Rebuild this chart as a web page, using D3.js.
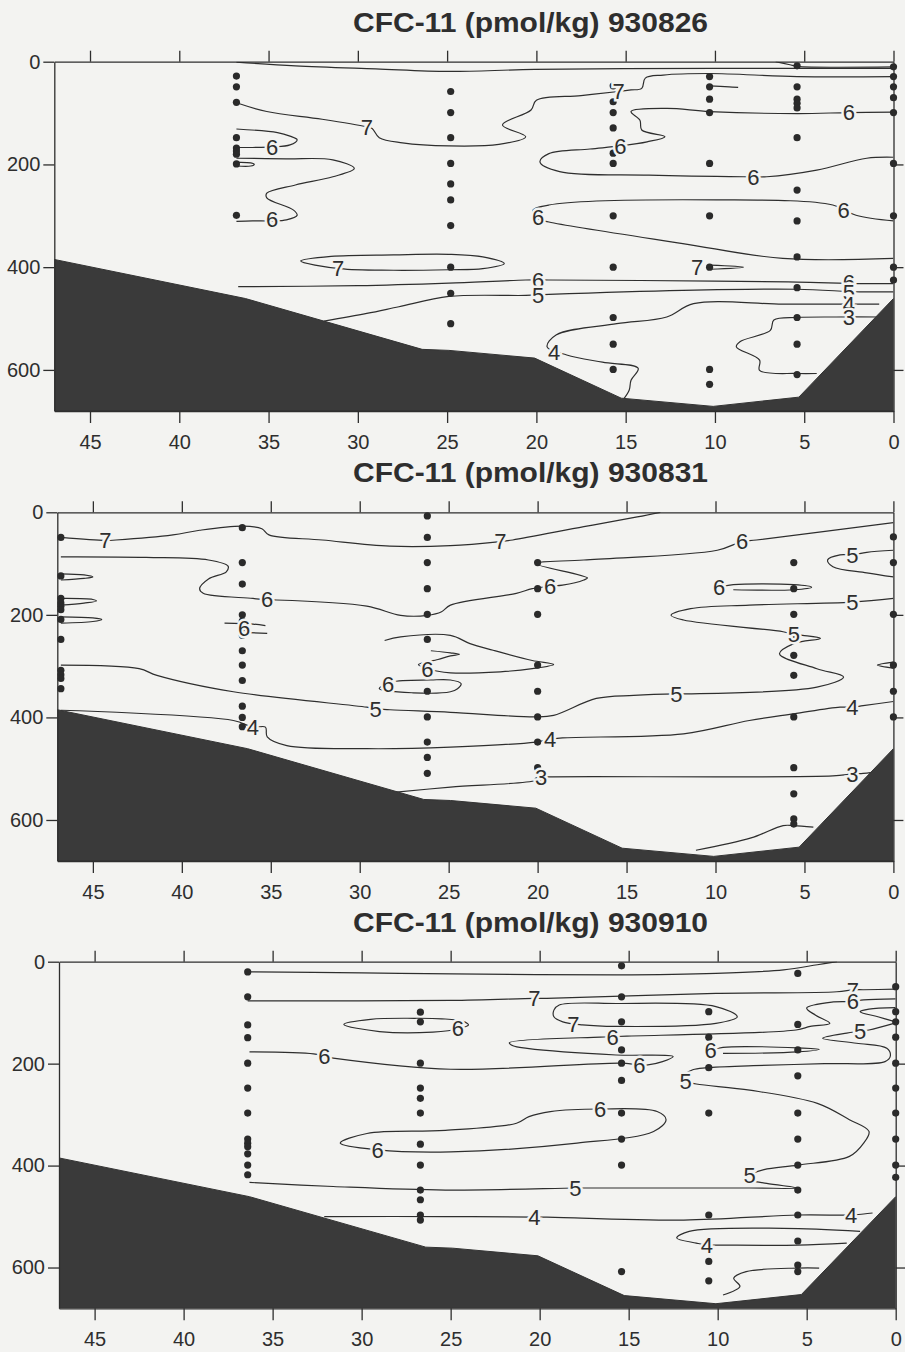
<!DOCTYPE html>
<html><head><meta charset="utf-8">
<script src="https://cdn.jsdelivr.net/npm/d3@7"></script>
<style>
html,body{margin:0;padding:0;background:#f3f3f1;}
svg{display:block;}
</style></head>
<body>
<script>
// ---------- DATA ----------
const titles = ["CFC-11 (pmol/kg) 930826", "CFC-11 (pmol/kg) 930831", "CFC-11 (pmol/kg) 930910"];
const xTicks = [45, 40, 35, 30, 25, 20, 15, 10, 5, 0];
const yTicks = [0, 200, 400, 600];

// bottom topography (distance, depth)
const bathyDist  = [47, 36.3, 26.4, 24.9, 20.1, 15.25, 10.1, 5.3, 0];
const bathyDepth = [385, 461, 560, 562, 577, 655, 671, 653, 461];

// sample stations
const stationDist1 = [36.8, 24.8, 15.7, 10.3, 5.4, 0];
const stationDepths1 = [
  [28,49,79,148,168,174,180,199,299],
  [58,99,148,198,238,269,319,400,451,510],
  [47,78,99,129,178,198,300,400,498,550,599],
  [29,49,73,99,198,300,400,599,628],
  [8,49,73,81,90,148,250,310,380,440,498,550,609],
  [10,29,49,70,99,198,300,400,425]];
const stationDist2 = [46.8, 36.6, 26.2, 20.0, 5.6, 0];
const stationDepths2 = [
  [49,124,168,177,183,190,209,248,308,317,324,344],
  [30,98,140,200,212,225,240,270,298,328,378,400,418],
  [7,49,98,149,199,248,298,349,399,448,478,509],
  [98,149,199,298,349,399,448,498,523],
  [98,149,199,243,279,318,399,498,549,598,608],
  [48,98,199,298,349,399]];
const stationDist3 = [36.4, 26.7, 15.4, 10.5, 5.5, 0];
const stationDepths3 = [
  [20,69,124,149,199,248,297,348,356,363,377,399,418],
  [99,118,199,248,268,297,358,399,448,467,497,507],
  [8,69,118,173,199,233,297,348,399,608],
  [98,148,208,297,497,588,626],
  [23,123,173,224,297,348,399,448,497,548,595,608],
  [49,98,118,148,199,248,297,348,399,423]];

// contour lines [distance, depth]
const p1Lines = [
  [[36.8,1],[33.5,8],[29,14],[24.9,19],[20.1,15],[10,13],[5.4,13],[0,13]],
  [[6.6,0],[5.8,6],[5.4,9],[0,10]],
  [[36.8,80],[35.1,97],[32,112],[29.5,127],[29.2,130],[28.8,148],[27.5,158],[24.9,164],[22.1,161],[20.6,146],[21.9,123],[20.3,94],[20.0,75],[17.5,66],[15.4,58],[14.7,55],[14.1,52],[13.9,32],[12.9,26],[10.3,23],[5.4,29],[0,29]],
  [[0,98],[2.5,99],[5.4,101],[10.3,97],[12.7,91],[14.7,97],[14.2,114],[14.1,133],[12.8,146],[13.8,156],[15.3,164],[17,170],[19.3,179],[19.8,195],[18.7,214],[13.7,221],[8.4,224],[7.1,224],[4.3,211],[1.5,188],[0,186]],
  [[36.8,131],[34.5,138],[33.8,145],[33.4,152],[33.8,162],[34.8,166],[35.9,167],[36.8,167]],
  [[36.8,188],[34,189],[31.4,191],[30.2,208],[31.4,224],[33.5,240],[35.1,256],[35.1,265],[33.6,289],[33.4,299],[34.0,308],[34.8,310],[35.9,310],[36.8,311]],
  [[36.8,196],[36.0,197],[35.8,200],[36.0,203],[36.8,203]],
  [[36.7,438],[30,436],[24.9,431],[20.6,425],[19.3,425],[10,427],[5.4,429],[1.9,432],[0,432]],
  [[31.9,505],[29.5,490],[27.7,477],[24.9,457],[20.6,455],[19.3,453],[11.8,445],[5.4,443],[1.9,448],[0,448]],
  [[15.1,656],[14.8,639],[14.7,620],[14.3,597],[16.3,585],[18.3,571],[19.4,555],[18.9,532],[15.5,510],[12.7,497],[11.2,471],[6.2,472],[1.9,472],[0.8,472]],
  [[0.75,497],[3.2,497],[5.4,498],[6.7,503],[6.9,523],[8.6,545],[8.8,555],[7.5,581],[7.5,601],[5.4,607],[4.3,607]],
  [[0,310],[2.1,299],[3.4,279],[9.9,269],[19.3,279],[20.2,290],[19.9,306],[19.3,312],[11.8,354],[6.2,383],[0,383]],
  [[10.3,396],[8.4,400],[10.3,404]],
  [[10.3,47],[9.2,49],[8.7,50]]];
const p1Loops = [
  [[33.2,388],[31.5,379],[28,376],[24.9,375],[23,380],[21.8,393],[23,403],[24.9,405],[28,406],[31,403]]];
const p1Labels = [["7",29.5,127],["6",34.8,166],["6",34.8,307],["7",31.1,402],["7",15.4,58],["6",15.3,164],
  ["6",2.5,99],["6",7.85,224],["6",2.8,289],["6",19.9,303],["7",11.0,400],["6",19.9,425],["5",19.9,454],
  ["6",2.5,429],["5",2.5,448],["4",2.5,472],["3",2.5,497],["4",19.0,565]];

const p2Lines = [
  [[46.8,49],[44.3,55],[43.7,54],[40.5,44],[39,35],[36.6,27],[35.5,32],[35.1,44],[32.1,54],[28.3,66],[24.9,65],[22.1,57],[21.4,54],[17.4,28],[14.4,9],[13.1,0]],
  [[46.8,87],[42,88],[38.5,93],[37.4,105],[37.5,116],[38.5,130],[39.0,149],[38.8,158],[36.0,168],[35.2,171],[34.7,171],[29.6,183],[27.7,201],[26.2,201],[25.4,194],[24.9,181],[21.2,158],[20.3,149],[19.3,144],[18.6,142],[17.4,132],[17.2,128],[20.1,100],[17.4,93],[9.9,74],[8.5,57],[7.7,54],[0,20]],
  [[46.8,120],[45.5,122],[45.0,126],[45.5,129],[46.8,132]],
  [[46.8,168],[45,170],[44.8,173],[45.5,177],[46.8,181]],
  [[46.8,204],[45,206],[44.5,209],[45,213],[46.8,216]],
  [[37.6,216],[36.0,218],[35.3,221]],
  [[36.6,234],[35.2,236]],
  [[28.6,250],[27.7,243],[24.9,240],[23.8,256],[22.5,269],[20.3,289],[19.1,297],[20.3,305],[22.1,311],[24.9,313],[26.2,305],[26.7,297],[25.6,287],[24.9,280],[24.4,277],[24.9,274],[26,270]],
  [[46.8,298],[42.4,305],[41.4,318],[37.1,350],[29.6,380],[29.1,383],[28.3,385],[24.9,390],[20.1,399],[19.1,396],[16.7,363],[14.6,357],[12.2,354],[11.6,354],[4.3,341],[2.8,321],[4.3,305],[6.4,276],[5.6,256],[4.1,246],[5.1,240],[5.6,238],[6.2,233],[11.8,210],[12.5,201],[11.4,188],[8.1,181],[2.3,175],[0,168]],
  [[0,74],[1.5,78],[2.3,83],[3.0,83],[3.7,93],[3.4,106],[1.5,118],[0,126]],
  [[9.8,146],[9.0,141],[5.6,141],[4.6,146],[5.6,151],[9.0,151]],
  [[0,292],[0.9,298],[0,304]],
  [[46.8,386],[37.1,406],[36.0,419],[35.3,419],[35.2,438],[34.1,455],[29.6,461],[24.9,458],[20.1,448],[19.3,443],[18.6,440],[11.8,432],[8.1,406],[5.6,393],[3.0,380],[2.3,380],[1.7,377],[0,369]],
  [[28.1,546],[24.9,536],[20.1,523],[19.8,517],[19.3,516],[3.4,514],[2.3,510],[1.7,509],[1.2,507]],
  [[11.1,659],[8,635],[6.2,611],[5.6,611],[4.5,614]]];
const p2Loops = [
  [[28.9,344],[28.2,331],[26,327],[24.9,327],[24.3,334],[24.5,344],[24.9,350],[27,352]]];
const p2Labels = [["7",44.3,55],["7",22.1,57],["6",35.2,170],["6",19.3,144],["6",8.5,57],["6",36.5,225],
  ["5",2.3,83],["6",9.8,146],["5",2.3,175],["5",5.6,238],["5",29.1,383],["5",12.2,354],["4",36.0,419],
  ["4",19.3,443],["4",2.3,380],["3",19.8,517],["3",2.3,510],["6",26.2,305],["6",28.4,335]];

const p3Lines = [
  [[36.4,20],[30,22],[24.9,24],[15.7,26],[10.1,23],[6.3,16],[4.4,6],[3.3,0]],
  [[36.4,77],[25,76],[20.3,72],[19.6,72],[10.1,62],[3.3,59],[2.4,55],[1.8,55],[0,54]],
  [[0,73],[1.8,75],[2.4,78],[3.5,79],[5.0,91],[4.5,105],[3.7,121],[4.8,127],[5.6,134],[15.1,146],[15.9,147],[16.6,148],[21.7,159],[21.5,165],[20.7,170],[15.7,183],[12.5,186],[13.1,196],[14.0,203],[14.4,203],[15.3,199],[25.0,211],[31.6,189],[32.1,186],[32.7,181],[36.3,177]],
  [[0,90],[1.5,93],[2.0,98],[1.0,108],[0,118]],
  [[0.1,121],[1.5,134],[2.1,137],[2.75,140],[4.1,150],[2.2,160],[0.5,170],[0.3,185],[0.6,196],[4,200],[8,204],[10.6,208],[11.4,212],[12.1,229],[11.8,235],[11.2,240],[8.2,252],[4.4,278],[2.6,310],[1.5,333],[1.8,356],[2.6,382],[5.5,399],[7.4,408],[8.2,418],[8.6,425],[7.25,435],[5.5,444],[8.2,444],[17.4,444],[18.0,444],[25.3,448],[31.6,441],[36.3,433]],
  [[10.4,174],[9.7,168],[5.5,169],[4.3,172],[5.5,177],[9.7,180]],
  [[32.1,500],[25.3,500],[20.3,501],[19.6,501],[11.9,507],[5.5,497],[2.5,497],[1.8,495],[1.3,493]],
  [[2.0,529],[6.3,523],[11.6,529],[12.3,542],[11.2,552],[10.6,556],[9.9,556],[5.5,556],[2.75,552]],
  [[9.7,654],[8.75,637],[9.1,621],[8.4,608],[5.5,601],[4.3,601]]];
const p3Loops = [
  [[31.0,123],[29.5,113],[27,111],[25.5,112],[24.3,117],[24.0,124],[24.5,131],[26,138],[29,137]],
  [[19.2,95],[18.9,85],[15.7,82],[10.1,88],[8.9,108],[10.1,121],[15.7,127],[17.6,124],[18.7,118],[19.2,108]],
  [[16.6,289],[13.4,294],[12.9,310],[13.6,333],[17.9,356],[25.0,373],[29.1,369],[31.2,356],[29.7,337],[25.3,331],[21.3,317],[20.6,304],[19.4,294]]];
const p3Labels = [["7",20.3,72],["7",2.4,55],["6",2.4,78],["5",2.0,137],["6",24.6,131],["7",18.1,122],
  ["6",15.9,147],["6",10.4,174],["6",14.4,203],["6",32.1,186],["5",11.8,235],["6",16.6,289],["6",29.1,369],
  ["5",8.2,418],["5",18.0,444],["4",20.3,501],["4",2.5,497],["4",10.6,556]];

// ---------- LAYOUT ----------
const W = 905, H = 1352;
const BG = "#f3f3f1", INK = "#2e2e2e";
const layout = [
  {left:54.3, right:893.5, top:61.7, bottom:411, titleY:32},
  {left:57.3, right:893.4, top:512.3, bottom:861, titleY:482},
  {left:59, right:895.7, top:961.7, bottom:1308.3, titleY:932}];
const panels = [
  {stDist:stationDist1, stDepths:stationDepths1, lines:p1Lines, loops:p1Loops, labels:p1Labels},
  {stDist:stationDist2, stDepths:stationDepths2, lines:p2Lines, loops:p2Loops, labels:p2Labels},
  {stDist:stationDist3, stDepths:stationDepths3, lines:p3Lines, loops:p3Loops, labels:p3Labels}];

const svg = d3.select("body").append("svg").attr("width", W).attr("height", H)
  .style("font-family", "'Liberation Sans', Arial, Helvetica, sans-serif");
svg.append("rect").attr("width", W).attr("height", H).attr("fill", BG);

panels.forEach((P, i) => {
  const L = layout[i];
  const x = d3.scaleLinear().domain([47, 0]).range([L.left, L.right]);
  const y = d3.scaleLinear().domain([0, 680]).range([L.top, L.bottom]);
  const g = svg.append("g");
  const clipId = "clip" + i;
  g.append("clipPath").attr("id", clipId).append("rect")
    .attr("x", L.left).attr("y", L.top).attr("width", L.right - L.left).attr("height", L.bottom - L.top);

  // title
  g.append("text").attr("x", 353).attr("y", L.titleY)
    .attr("font-size", 28).attr("font-weight", "bold").attr("fill", INK)
    .attr("textLength", 355).attr("lengthAdjust", "spacingAndGlyphs")
    .text(titles[i]);

  const plot = g.append("g").attr("clip-path", `url(#${clipId})`);
  const line = d3.line().x(d => x(d[0])).y(d => y(d[1])).curve(d3.curveCatmullRom.alpha(0.5));
  const loop = d3.line().x(d => x(d[0])).y(d => y(d[1])).curve(d3.curveCatmullRomClosed.alpha(0.5));

  plot.selectAll("path.c").data(P.lines).join("path").attr("class", "c")
    .attr("d", line).attr("fill", "none").attr("stroke", INK).attr("stroke-width", 1.2);
  plot.selectAll("path.l").data(P.loops).join("path").attr("class", "l")
    .attr("d", loop).attr("fill", "none").attr("stroke", INK).attr("stroke-width", 1.2);

  // bathymetry
  const bathy = bathyDist.map((d, k) => [d, bathyDepth[k]]);
  const poly = [[47, 680], ...bathy, [0, 680]];
  plot.append("path").attr("d", d3.line().x(d => x(d[0])).y(d => y(d[1]))(poly) + "Z")
    .attr("fill", "#3a3a3a").attr("stroke", "#333").attr("stroke-width", 1);

  // stations
  const pts = [];
  P.stDist.forEach((d, k) => P.stDepths[k].forEach(z => pts.push([d, z])));
  g.selectAll("circle.s").data(pts).join("circle").attr("class", "s")
    .attr("cx", d => x(d[0])).attr("cy", d => y(d[1])).attr("r", 3.6).attr("fill", "#2a2a2a");

  // labels
  g.selectAll("text.lab").data(P.labels).join("text").attr("class", "lab")
    .attr("x", d => x(d[1])).attr("y", d => y(d[2])).attr("dy", "0.36em")
    .attr("text-anchor", "middle").attr("font-size", 22).attr("fill", INK)
    .attr("stroke", BG).attr("stroke-width", 5).attr("paint-order", "stroke")
    .text(d => d[0]);

  // axes
  const style = sel => {
    sel.selectAll("path.domain").attr("stroke", INK).attr("stroke-width", 1.3);
    sel.selectAll(".tick line").attr("stroke", INK).attr("stroke-width", 1.3);
    sel.selectAll(".tick text").attr("fill", INK).attr("font-size", 20)
      .attr("font-family", "'Liberation Sans', Arial, Helvetica, sans-serif");
  };
  g.append("g").attr("transform", `translate(0,${L.top})`)
    .call(d3.axisTop(x).tickValues(xTicks).tickSize(11).tickSizeOuter(0).tickFormat(""))
    .call(style);
  g.append("g").attr("transform", `translate(0,${L.bottom})`)
    .call(d3.axisBottom(x).tickValues(xTicks).tickSize(12).tickSizeOuter(0).tickPadding(12).tickFormat(d3.format("d")))
    .call(style);
  g.append("g").attr("transform", `translate(${L.left},0)`)
    .call(d3.axisLeft(y).tickValues(yTicks).tickSize(11).tickSizeOuter(0).tickPadding(3))
    .call(style);
  g.append("g").attr("transform", `translate(${L.right},0)`)
    .call(d3.axisRight(y).tickValues([200, 400, 600]).tickSize(10).tickSizeOuter(0).tickFormat(""))
    .call(style);
});
</script>
</body></html>
